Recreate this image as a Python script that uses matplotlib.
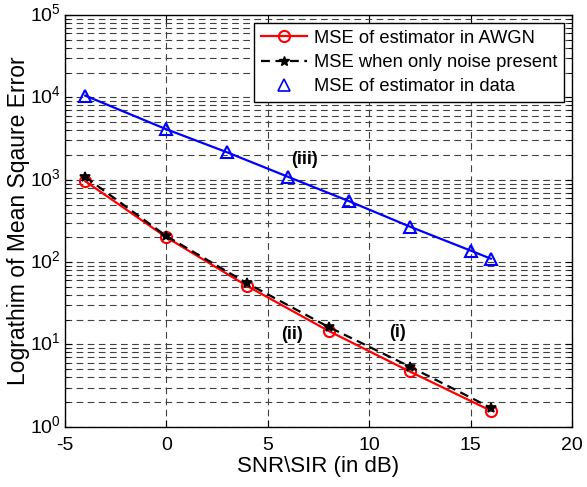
import matplotlib
matplotlib.use("Agg")
import matplotlib.pyplot as plt
from matplotlib.lines import Line2D
from matplotlib.ticker import LogLocator, FixedLocator
from matplotlib.transforms import ScaledTranslation

plt.rcParams['font.family'] = ['Liberation Sans', 'DejaVu Sans']
plt.rcParams['mathtext.default'] = 'regular'

# valores
snr_awgn = [-4, 0, 4, 8, 12, 16]
mse_awgn = [960, 200, 51, 14.6, 4.7, 1.57]
mse_noise = [1080, 207, 55, 16.3, 5.4, 1.70]

snr_data = [-4, 0, 3, 6, 9, 12, 15, 16]
mse_data = [10500, 4100, 2150, 1085, 550, 270, 138, 110]

x_ticks = [-5, 0, 5, 10, 15, 20]
y_ticks = [1, 10, 100, 1000, 10000, 100000]

fig = plt.figure(figsize=(5.87, 4.87), dpi=100)
ax = fig.add_axes([0.1107, 0.1235, 0.8637, 0.8457])

ax.semilogy(snr_awgn, mse_awgn, color='red', lw=1.6, marker='o', ms=8,
            mfc='none', mec='red', mew=1.5, zorder=3)
ax.semilogy(snr_awgn, mse_noise, color='black', lw=1.6, ls=(0, (4, 2.5)),
            marker='*', ms=7.5, mfc='black', mec='black', mew=1.2, zorder=4)
ax.semilogy(snr_data, mse_data, color='blue', lw=1.6, marker='^', ms=9,
            mfc='none', mec='blue', mew=1.5, zorder=3)

ax.set_xlim(-5, 20)
ax.set_ylim(1, 1e5)
ax.xaxis.set_major_locator(FixedLocator(x_ticks))
ax.yaxis.set_major_locator(FixedLocator(y_ticks))
ax.yaxis.set_minor_locator(LogLocator(base=10, subs=range(2, 10), numticks=20))
ax.set_yticklabels(['$10^{%d}$' % i for i in range(6)])
ax.set_xticklabels([str(t) for t in x_ticks])

grid_style = dict(color='0.25', ls=(0, (6, 4)), lw=0.8)
ax.grid(True, which='major', **grid_style)
ax.grid(True, which='minor', axis='y', **grid_style)

ax.tick_params(which='both', direction='in', top=True, right=True, labelsize=14)
ax.tick_params(which='major', length=5)
ax.tick_params(which='minor', length=3)
ax.tick_params(axis='x', pad=7)
ax.tick_params(axis='y', pad=3)
for lab in ax.get_yticklabels():
    lab.set_transform(lab.get_transform() + ScaledTranslation(0, 3 / 100, fig.dpi_scale_trans))
for s in ax.spines.values():
    s.set_linewidth(1.0)

ax.set_xlabel('SNR\\SIR (in dB)', fontsize=16, labelpad=2)
ax.set_ylabel('Lograthim of Mean Sqaure Error', fontsize=16.5, labelpad=0)

ax.text(6.8, 1750, '(iii)', fontsize=13, fontweight='bold', ha='center', va='center')
ax.text(6.2, 13.4, '(ii)', fontsize=13, fontweight='bold', ha='center', va='center')
ax.text(11.4, 13.9, '(i)', fontsize=13, fontweight='bold', ha='center', va='center')

handles = [
    Line2D([], [], color='red', lw=1.6, marker='o', ms=8, mfc='none', mec='red', mew=1.5),
    Line2D([], [], color='black', lw=1.6, ls=(0, (4, 2.5)), marker='*', ms=7.5, mfc='black'),
    Line2D([], [], ls='none', marker='^', ms=9, mfc='none', mec='blue', mew=1.2),
]
labels = ['MSE of estimator in AWGN', 'MSE when only noise present', 'MSE of estimator in data']
leg = ax.legend(handles, labels, loc='upper right', fontsize=13.2, frameon=True, fancybox=False,
                edgecolor='black', framealpha=1, borderpad=0.35, labelspacing=0.4,
                handlelength=2.5, handletextpad=0.4, borderaxespad=0.45)
leg.get_frame().set_linewidth(1.0)

fig.savefig('out.png', dpi=100)
